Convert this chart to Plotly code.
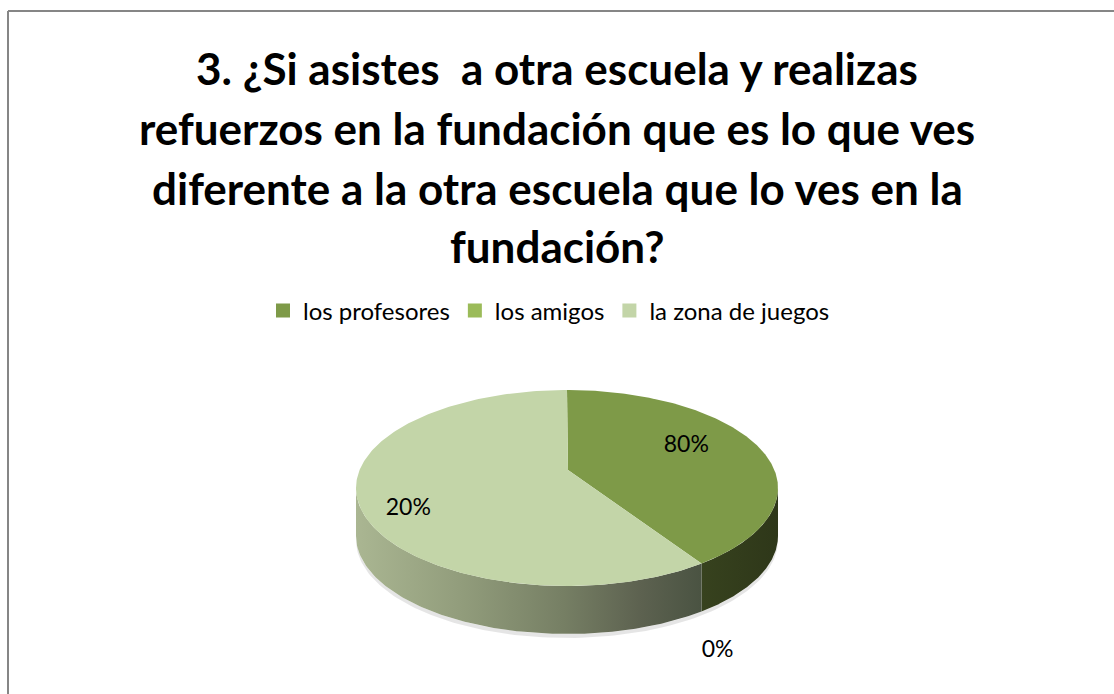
import numpy as np
import plotly.graph_objects as go

# ---------------- data ----------------
categories = ["los profesores", "los amigos", "la zona de juegos"]
shares = [39, 0, 61]                 # visual share of each slice
label_text = ["80%", "0%", "20%"]     # labels printed on the chart
top_colors = ["#7e9a48", "#9bbb59", "#c3d5a8"]
side_scales = [
    [[0, "#37421e"], [1, "#2e3719"]],
    [[0, "#7e9a48"], [1, "#5f7436"]],
    [[0, "#aab692"], [0.3, "#929d7c"], [0.6, "#767f64"], [0.82, "#5d6250"], [1, "#4a5342"]],
]
title_lines = [
    "3. ¿Si asistes  a otra escuela y realizas",
    "refuerzos en la fundación que es lo que ves",
    "diferente a la otra escuela que lo ves en la",
    "fundación?",
]

# ---------------- geometry (style) ----------------
W, H = 1114, 694
CX, CY = 567, 488      # ellipse centre
RX, RY = 211, 98       # ellipse radii
AX, AY = 568, 470      # apex (projected pie centre)
DEPTH = 48

def ell(theta_deg):
    t = np.radians(theta_deg)
    return CX + RX * np.sin(t), CY - RY * np.cos(t)

total = float(sum(shares))
starts = np.concatenate([[0], np.cumsum(shares)[:-1]]) / total * 360
ends = np.cumsum(shares) / total * 360

fig = go.Figure()

# faint shadow
ts = np.linspace(90, 270, 120)
sx, sy = ell(ts)
fig.add_trace(go.Scatter(
    x=np.concatenate([sx, sx[::-1]]),
    y=np.concatenate([sy + DEPTH + 4, (sy + DEPTH)[::-1]]),
    fill="toself", fillcolor="rgba(0,0,0,0.10)", line=dict(width=0),
    mode="lines", hoverinfo="skip", showlegend=False))

# side walls
for i in range(len(categories)):
    a0, a1 = max(starts[i], 90), min(ends[i], 270)
    if shares[i] <= 0 or a1 <= a0:
        continue
    t = np.linspace(a0, a1, 120)
    ex, ey = ell(t)
    px = np.concatenate([ex, ex[::-1]])
    py = np.concatenate([ey, (ey + DEPTH)[::-1]])
    fig.add_trace(go.Scatter(
        x=px, y=py, fill="toself", mode="lines", line=dict(width=0),
        fillcolor=side_scales[i][0][1],
        fillgradient=dict(type="horizontal", colorscale=side_scales[i],
                          start=float(px.min()), stop=float(px.max())),
        hoverinfo="skip", showlegend=False))

# top faces
for i in range(len(categories)):
    if shares[i] <= 0:
        continue
    t = np.linspace(starts[i], ends[i], 240)
    ex, ey = ell(t)
    px = np.concatenate([[AX], ex, [AX]])
    py = np.concatenate([[AY], ey, [AY]])
    fig.add_trace(go.Scatter(
        x=px, y=py, fill="toself", mode="lines", line=dict(width=0),
        fillcolor=top_colors[i], hoverinfo="skip", showlegend=False))

# data labels
lx, ly = [], []
for i in range(len(categories)):
    mid = (starts[i] + ends[i]) / 2
    ex, ey = ell(mid)
    if shares[i] > 0:
        lx.append(AX + 0.70 * (ex - AX) - 20)
        ly.append(AY + 0.95 * (ey - AY) - 9)
    else:
        f = 1.15
        lx.append(AX + f * (ex - AX) - 4)
        ly.append(AY + f * (ey - AY) + 1.5 * DEPTH + 2)
fig.add_trace(go.Scatter(
    x=lx, y=ly, mode="text", text=label_text, textposition="middle center",
    textfont=dict(family="Lato", size=23, color="#000000"),
    hoverinfo="skip", showlegend=False))

# legend entries
for i, c in enumerate(categories):
    fig.add_trace(go.Scatter(
        x=[None], y=[None], mode="markers", name=c,
        marker=dict(symbol="square", size=14, color=top_colors[i])))

# title
title_y = [68, 128, 188, 246]
for line, yy in zip(title_lines, title_y):
    fig.add_annotation(
        x=0.5, y=1 - yy / H, xref="paper", yref="paper", text="<b>" + line + "</b>",
        showarrow=False, xanchor="center", yanchor="middle",
        font=dict(family="Lato", size=44, color="#000000"))

fig.update_layout(
    width=W, height=H,
    margin=dict(l=0, r=0, t=0, b=0),
    paper_bgcolor="#ffffff", plot_bgcolor="#ffffff",
    xaxis=dict(range=[0, W], visible=False, fixedrange=True, domain=[0, 1]),
    yaxis=dict(range=[H, 0], visible=False, fixedrange=True, domain=[0, 1]),
    legend=dict(orientation="h", x=263 / W, xanchor="left",
                y=1 - 311 / H, yanchor="middle",
                font=dict(family="Lato", size=24, color="#000000"),
                bgcolor="rgba(0,0,0,0)"),
    shapes=[
        dict(type="line", xref="paper", yref="paper", x0=8 / W, x1=1, y0=1 - 11 / H, y1=1 - 11 / H,
             line=dict(color="#868686", width=2)),
        dict(type="line", xref="paper", yref="paper", x0=8 / W, x1=8 / W, y0=1 - 11 / H, y1=0,
             line=dict(color="#868686", width=2)),
    ],
)

fig.write_html("out.html", config={"displayModeBar": False},
               post_script="document.body.style.margin='0';")
